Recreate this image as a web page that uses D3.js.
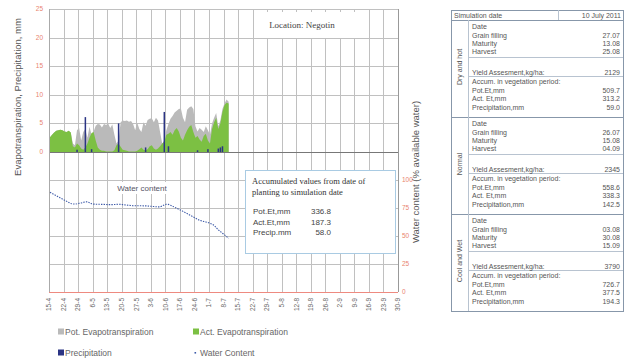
<!DOCTYPE html>
<html>
<head>
<meta charset="utf-8">
<script src="https://cdn.jsdelivr.net/npm/d3@7/dist/d3.min.js"></script>
<style>
  body { margin: 0; background: #fff; }
  svg { display: block; }
</style>
</head>
<body>
<svg id="chart" width="626" height="361"></svg>
<script>
// daily values from 15 April to 10 July 2011 (simulation date)
var startDay = new Date(2011, 3, 15);
var endDay = new Date(2011, 8, 30);

var potEt = [2.6, 3.0, 3.4, 3.7, 3.8, 3.9, 3.8, 3.6, 3.5, 3.7, 3.4,
  1.5, 1.2, 3.8, 4.2, 2.0, 3.5, 4.0, 2.5, 4.4, 3.0, 3.6, 4.6, 4.9, 4.8, 4.3, 4.9, 4.7, 5.0, 4.2, 4.8,
  3.0, 1.5, 2.0, 5.2, 5.5, 5.4, 5.5, 5.3, 5.4, 4.9, 3.8, 5.1, 4.0, 3.5, 5.2, 4.6, 5.6, 5.8, 5.9, 5.2, 6.0, 5.5, 3.5,
  1.5, 2.0, 3.8, 4.9, 5.8, 6.3, 6.9, 7.2, 7.5, 7.6, 6.0, 5.2, 7.4, 7.8, 8.0, 7.5,
  4.5, 3.6, 4.2, 3.9, 3.5, 4.5, 3.8, 3.0, 5.0, 6.0, 6.8, 4.5, 5.5, 7.5, 8.5, 9.2, 8.8];

var actEt = [2.6, 3.0, 3.4, 3.7, 3.8, 3.9, 3.8, 3.6, 3.5, 3.7, 3.4,
  1.0, 0.8, 1.5, 1.2, 0.6, 0.4, 0.8, 1.5, 2.5, 3.3, 3.5, 2.0, 0.8, 0.4, 0.2, 0.2, 0.1, 0.1, 0.1, 0.1,
  0.3, 1.2, 1.5, 0.9, 0.4, 0.3, 0.2, 0.1, 0.1, 0.1, 0.1, 0.2, 0.5, 0.8, 0.4, 0.3, 0.5, 1.0, 1.2, 0.6, 0.4, 0.6, 1.0,
  1.5, 1.8, 3.0, 3.2, 3.5, 3.0, 3.8, 4.2, 3.6, 2.5, 2.0, 3.0, 3.8, 4.4, 4.7, 3.5,
  2.5, 2.8, 2.2, 1.8, 2.8, 3.2, 2.0, 1.5, 4.0, 5.2, 6.0, 4.0, 5.0, 7.0, 8.2, 8.6, 8.5];

var precip = [0, 0, 0, 0, 0, 0, 0, 0, 0, 0, 0,
  0, 0, 0.4, 0, 0, 0, 6.1, 0, 0, 0.5, 0, 0, 0, 0, 0, 0, 0, 0, 0, 0,
  0, 0, 5.0, 0, 0, 0, 0, 0, 0, 0, 0, 0, 0, 0, 0, 0.8, 0, 0, 0, 0, 0, 0, 0,
  0, 7.0, 0, 1.0, 0, 0, 0, 0, 0, 0, 0, 0, 0, 0, 0, 0,
  0, 0.3, 0, 0, 0, 0, 0.5, 0, 0, 0, 0, 0.6, 0.8, 1.0, 0, 0, 0];

var waterContent = [89.0, 88.0, 87.0, 86.0, 85.0, 84.0, 83.0, 82.0, 81.0, 80.0, 79.0,
  78.6, 78.5, 78.8, 79.2, 79.5, 80.0, 80.4, 80.6, 79.8, 78.8, 78.5, 78.4, 78.3, 78.3, 78.2, 78.2, 78.1, 78.0, 78.0, 78.0,
  78.1, 78.2, 78.4, 78.2, 78.0, 77.8, 77.6, 77.4, 77.2, 77.0, 77.0, 77.0, 77.1, 77.0, 76.9, 76.9, 76.8, 76.6, 76.5, 76.3, 76.1, 76.0, 76.0,
  76.8, 77.8, 78.3, 78.2, 77.5, 76.6, 75.7, 74.8, 73.9, 73.0, 72.0, 71.0, 70.0, 69.0, 68.0, 67.0,
  66.0, 65.0, 64.0, 63.5, 63.0, 62.5, 62.0, 61.3, 60.6, 59.5, 57.5, 55.5, 54.0, 52.5, 51.0, 49.5, 48.0];

var etTicks = [0, 5, 10, 15, 20, 25];
var wcTicks = [0, 25, 50, 75, 100];

var accumLabels = ["Pot.Et,mm", "Act.Et,mm", "Precip.mm"];
var accumValues = ["336.8", "187.3", "58.0"];

// table on the right
var scenarios = ["Dry and hot", "Normal", "Cool and Wet"];
var grainFilling = ["27.07", "26.07", "03.08"];
var maturity = ["13.08", "15.08", "30.08"];
var harvest = ["25.08", "04.09", "15.09"];
var yieldKg = ["2129", "2345", "3790"];
var potEtVeg = ["509.7", "558.6", "726.7"];
var actEtVeg = ["313.2", "338.3", "377.5"];
var precipVeg = ["59.0", "142.5", "194.3"];

var svg = d3.select("#chart");
var sans = "Liberation Sans, Arial, sans-serif";
var serif = "Liberation Serif, Times New Roman, serif";

var plot = {left: 49, right: 398, top: 9, zero: 152, bottom: 292};

var x = d3.scaleTime().domain([startDay, endDay]).range([plot.left, plot.right]);
var yEt = d3.scaleLinear().domain([0, 25]).range([plot.zero, plot.top]);
var yWc = d3.scaleLinear().domain([0, 100]).range([plot.bottom, 180]);

var days = potEt.map(function(d, i) { return d3.timeDay.offset(startDay, i); });
var weeks = d3.range(0, 25).map(function(i) { return d3.timeDay.offset(startDay, i * 7); });

// grid
svg.append("g").selectAll("line").data(weeks).enter().append("line")
  .attr("x1", function(d) { return Math.round(x(d)) + 0.5; })
  .attr("x2", function(d) { return Math.round(x(d)) + 0.5; })
  .attr("y1", plot.top).attr("y2", plot.bottom)
  .attr("stroke", "#c0c0c0").attr("stroke-width", 1);

svg.append("g").selectAll("line").data(etTicks.slice(1)).enter().append("line")
  .attr("x1", plot.left).attr("x2", plot.right)
  .attr("y1", function(d) { return Math.round(yEt(d)) + 0.5; })
  .attr("y2", function(d) { return Math.round(yEt(d)) + 0.5; })
  .attr("stroke", "#c0c0c0");

svg.append("g").selectAll("line").data(wcTicks.slice(1)).enter().append("line")
  .attr("x1", plot.left).attr("x2", plot.right)
  .attr("y1", function(d) { return Math.round(yWc(d)) + 0.5; })
  .attr("y2", function(d) { return Math.round(yWc(d)) + 0.5; })
  .attr("stroke", "#c0c0c0");

// label boxes that hide the grid
svg.append("rect").attr("x", 260).attr("y", 12).attr("width", 105).attr("height", 26).attr("fill", "#fff");
svg.append("text").attr("x", 302).attr("y", 28).attr("text-anchor", "middle")
  .style("font-family", serif).style("font-size", "9px").attr("fill", "#444")
  .text("Location: Negotin");

// ET areas, one point per day
var etArea = d3.area()
  .x(function(d, i) { return x(days[i]) + 1; })
  .y0(yEt(0))
  .y1(function(d) { return yEt(d); });

svg.append("path").datum(potEt).attr("d", etArea).attr("fill", "#bababa");
svg.append("path").datum(actEt).attr("d", etArea).attr("fill", "#7cc043");

svg.append("g").selectAll("rect").data(precip).enter().append("rect")
  .attr("x", function(d, i) { return x(days[i]) + 0.3; })
  .attr("y", function(d) { return yEt(d); })
  .attr("width", 1.5)
  .attr("height", function(d) { return yEt(0) - yEt(d); })
  .attr("fill", "#2b3484");

// axis lines
svg.append("line").attr("x1", plot.left).attr("x2", plot.right)
  .attr("y1", plot.zero + 0.5).attr("y2", plot.zero + 0.5).attr("stroke", "#777");
svg.append("line").attr("x1", plot.left).attr("x2", plot.right)
  .attr("y1", plot.bottom + 0.5).attr("y2", plot.bottom + 0.5).attr("stroke", "#ee8a80");
svg.append("line").attr("x1", plot.left + 0.5).attr("x2", plot.left + 0.5)
  .attr("y1", plot.top).attr("y2", plot.bottom).attr("stroke", "#aaa");
svg.append("line").attr("x1", plot.right + 0.5).attr("x2", plot.right + 0.5)
  .attr("y1", plot.top).attr("y2", plot.bottom).attr("stroke", "#999");

// tick labels
svg.append("g").selectAll("text").data(etTicks).enter().append("text")
  .attr("x", 43).attr("y", function(d) { return yEt(d) + 2; })
  .attr("text-anchor", "end")
  .style("font-family", sans).style("font-size", "6.5px").attr("fill", "#e9836f")
  .text(function(d) { return d; });

svg.append("g").selectAll("text").data(wcTicks).enter().append("text")
  .attr("x", 402).attr("y", function(d) { return yWc(d) + 2; })
  .style("font-family", sans).style("font-size", "6.5px").attr("fill", "#e9836f")
  .text(function(d) { return d; });

var fmt = d3.timeFormat("%-d-%-m");
svg.append("g").selectAll("text").data(weeks).enter().append("text")
  .attr("transform", function(d) { return "translate(" + (x(d) + 2.3) + ",298) rotate(-90)"; })
  .attr("text-anchor", "end")
  .style("font-family", sans).style("font-size", "6.5px").attr("fill", "#666")
  .text(function(d) { return fmt(d); });

// axis titles
svg.append("text").attr("transform", "translate(21,97) rotate(-90)")
  .attr("text-anchor", "middle")
  .style("font-family", sans).style("font-size", "9.5px").attr("fill", "#555")
  .text("Evapotranspiration, Precipitation, mm");

svg.append("text").attr("transform", "translate(419,172) rotate(-90)")
  .attr("text-anchor", "middle")
  .style("font-family", sans).style("font-size", "9.5px").attr("fill", "#555")
  .text("Water content (% available water)");

// water content line
svg.append("rect").attr("x", 115).attr("y", 182).attr("width", 56).attr("height", 12).attr("fill", "#fff");
svg.append("text").attr("x", 142).attr("y", 191).attr("text-anchor", "middle")
  .style("font-family", sans).style("font-size", "8px").attr("fill", "#556")
  .text("Water content");

var wcLine = d3.line()
  .x(function(d, i) { return x(days[i]) + 1; })
  .y(function(d) { return yWc(d); });

svg.append("path").datum(waterContent).attr("d", wcLine)
  .attr("fill", "none").attr("stroke", "#3d5aa8").attr("stroke-width", 1.1)
  .attr("stroke-dasharray", "1.4,1.2");

// accumulated values box
var box = svg.append("g").attr("transform", "translate(245,170)");
box.append("rect").attr("x", 0.5).attr("y", 0.5).attr("width", 150).attr("height", 83)
  .attr("fill", "#fff").attr("stroke", "#a9cbe3");
box.append("text").attr("x", 7).attr("y", 14)
  .style("font-family", serif).style("font-size", "8.5px").attr("fill", "#333")
  .text("Accumulated values from date of");
box.append("text").attr("x", 7).attr("y", 25)
  .style("font-family", serif).style("font-size", "8.5px").attr("fill", "#333")
  .text("planting to simulation date");
box.selectAll(".al").data(accumLabels).enter().append("text")
  .attr("x", 8).attr("y", function(d, i) { return 44 + i * 10.5; })
  .style("font-family", sans).style("font-size", "8px").attr("fill", "#444")
  .text(function(d) { return d; });
box.selectAll(".av").data(accumValues).enter().append("text")
  .attr("x", 86).attr("y", function(d, i) { return 44 + i * 10.5; })
  .attr("text-anchor", "end")
  .style("font-family", sans).style("font-size", "8px").attr("fill", "#444")
  .text(function(d) { return d; });

// legend
var legendItems = [
  {label: "Pot. Evapotranspiration", color: "#bababa", x: 58, y: 332, dot: false},
  {label: "Act. Evapotranspiration", color: "#7cc043", x: 193, y: 332, dot: false},
  {label: "Precipitation", color: "#2b3484", x: 58, y: 353, dot: false},
  {label: "Water Content", color: "#3d5aa8", x: 193, y: 353, dot: true}
];
var lg = svg.append("g").selectAll("g").data(legendItems).enter().append("g")
  .attr("transform", function(d) { return "translate(" + d.x + "," + d.y + ")"; });
lg.append("rect")
  .attr("x", function(d) { return d.dot ? 1.5 : 0; })
  .attr("y", function(d) { return d.dot ? -1 : -3.5; })
  .attr("width", function(d) { return d.dot ? 1.6 : 6; })
  .attr("height", function(d) { return d.dot ? 1.6 : 6; })
  .attr("fill", function(d) { return d.color; });
lg.append("text").attr("x", 7).attr("y", 3)
  .style("font-family", sans).style("font-size", "8.5px").attr("fill", "#666")
  .text(function(d) { return d.label; });

// results table
var tb = {left: 451, right: 623, top: 10, head: 20, section: 97, labelCol: 468};
var tableBorder = "#8797aa";
var tableLine = "#b8c3d0";
var tableText = "#555";

var table = svg.append("g");
table.append("rect").attr("x", tb.left + 0.5).attr("y", tb.top + 0.5)
  .attr("width", tb.right - tb.left).attr("height", tb.head - tb.top + 3 * tb.section)
  .attr("fill", "none").attr("stroke", tableBorder);
table.append("line").attr("x1", tb.left).attr("x2", tb.right)
  .attr("y1", tb.head + 0.5).attr("y2", tb.head + 0.5).attr("stroke", tableBorder);
table.append("line").attr("x1", 558.5).attr("x2", 558.5)
  .attr("y1", tb.top).attr("y2", tb.head).attr("stroke", tableLine);
table.append("text").attr("x", tb.left + 3).attr("y", 17.5)
  .style("font-family", sans).style("font-size", "7px").attr("fill", tableText)
  .text("Simulation date");
table.append("text").attr("x", tb.right - 2).attr("y", 17.5).attr("text-anchor", "end")
  .style("font-family", sans).style("font-size", "7px").attr("fill", tableText)
  .text("10 July 2011");

var sec = table.selectAll(".sec").data(scenarios).enter().append("g")
  .attr("transform", function(d, i) { return "translate(0," + (tb.head + i * tb.section) + ")"; });

sec.append("line").attr("x1", tb.left).attr("x2", tb.right)
  .attr("y1", tb.section + 0.5).attr("y2", tb.section + 0.5).attr("stroke", tableBorder);
sec.append("line").attr("x1", tb.labelCol + 0.5).attr("x2", tb.labelCol + 0.5)
  .attr("y1", 0).attr("y2", tb.section).attr("stroke", tableLine);
sec.append("line").attr("x1", tb.labelCol).attr("x2", tb.right)
  .attr("y1", 37.5).attr("y2", 37.5).attr("stroke", tableLine);
sec.append("line").attr("x1", tb.labelCol).attr("x2", tb.right)
  .attr("y1", 56.5).attr("y2", 56.5).attr("stroke", tableLine);
sec.append("text").attr("transform", "translate(462,47) rotate(-90)")
  .attr("text-anchor", "middle")
  .style("font-family", sans).style("font-size", "7px").attr("fill", tableText)
  .text(function(d) { return d; });

var rowDefs = [
  {label: "Date", y: 8.5, values: null},
  {label: "Grain filling", y: 17.5, values: grainFilling},
  {label: "Maturity", y: 25.5, values: maturity},
  {label: "Harvest", y: 33.5, values: harvest},
  {label: "Yield Assesment,kg/ha:", y: 54.5, values: yieldKg},
  {label: "Accum. in vegetation period:", y: 63.5, values: null},
  {label: "Pot.Et,mm", y: 72.5, values: potEtVeg},
  {label: "Act. Et,mm", y: 81, values: actEtVeg},
  {label: "Precipitation,mm", y: 90, values: precipVeg}
];

sec.each(function(s, si) {
  var g = d3.select(this);
  rowDefs.forEach(function(r) {
    g.append("text").attr("x", tb.labelCol + 4).attr("y", r.y)
      .style("font-family", sans).style("font-size", "7px").attr("fill", tableText)
      .text(r.label);
    if (r.values) {
      g.append("text").attr("x", tb.right - 3).attr("y", r.y).attr("text-anchor", "end")
        .style("font-family", sans).style("font-size", "7px").attr("fill", tableText)
        .text(r.values[si]);
    }
  });
});
</script>
</body>
</html>
